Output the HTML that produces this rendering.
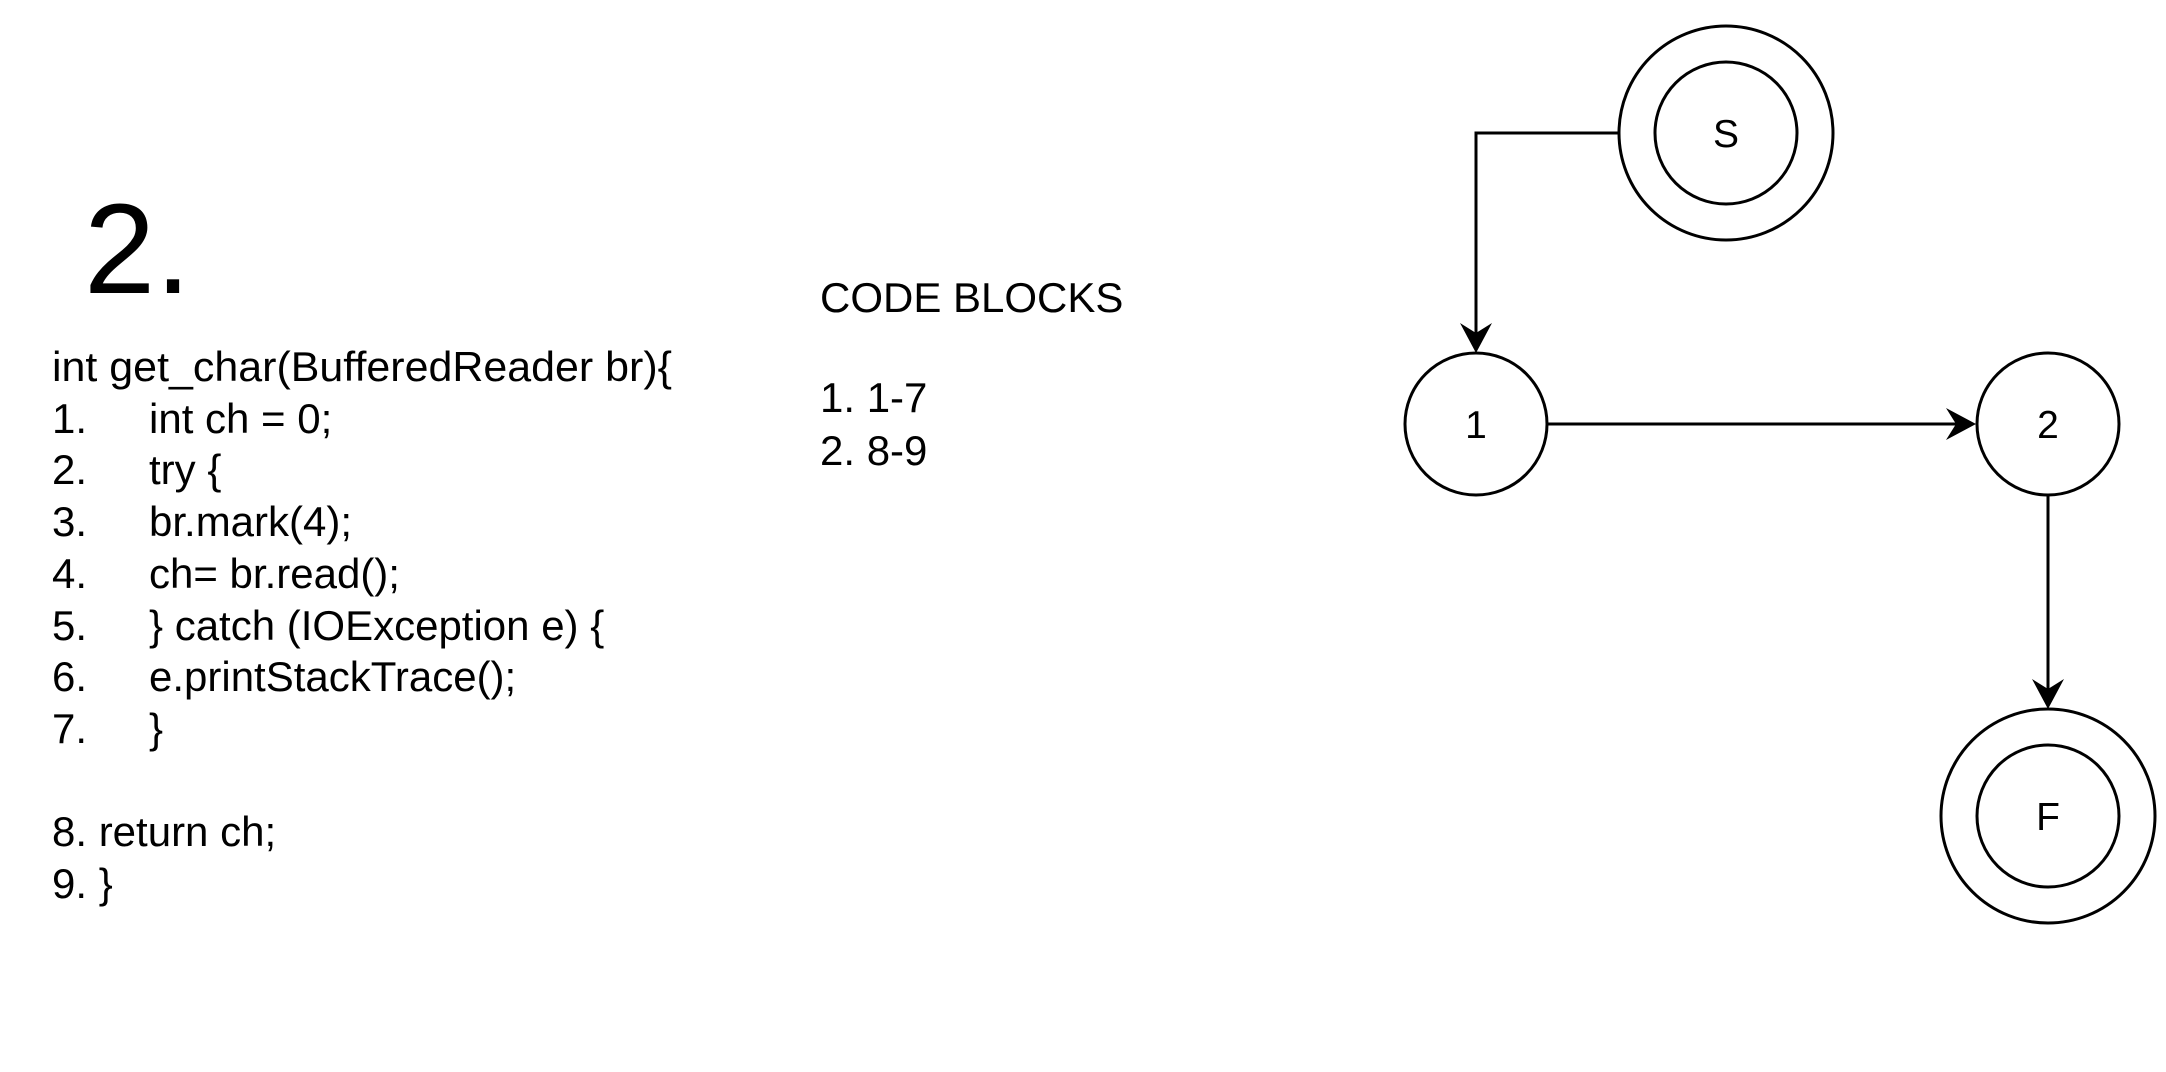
<!DOCTYPE html>
<html><head><meta charset="utf-8"><style>
html,body{margin:0;padding:0;background:#fff;width:2166px;height:1072px;overflow:hidden}
svg{display:block}
text{font-family:"Liberation Sans",Helvetica,Arial,sans-serif;fill:#000}
</style></head><body>
<svg width="2166" height="1072" viewBox="0 0 2166 1072" xmlns="http://www.w3.org/2000/svg">
<text x="84" y="293" font-size="128">2.</text>
<g font-size="42">
<text x="52" y="381" textLength="620" lengthAdjust="spacingAndGlyphs">int get_char(BufferedReader br){</text>
<text x="52" y="433">1.</text><text x="149" y="433">int ch = 0;</text>
<text x="52" y="484">2.</text><text x="149" y="484">try {</text>
<text x="52" y="536">3.</text><text x="149" y="536">br.mark(4);</text>
<text x="52" y="588">4.</text><text x="149" y="588">ch= br.read();</text>
<text x="52" y="640">5.</text><text x="149" y="640">} catch (IOException e) {</text>
<text x="52" y="691">6.</text><text x="149" y="691">e.printStackTrace();</text>
<text x="52" y="743">7.</text><text x="149" y="743">}</text>
<text x="52" y="846">8. return ch;</text>
<text x="52" y="898">9. }</text>
<text x="820" y="312">CODE BLOCKS</text>
<text x="820" y="412">1. 1-7</text>
<text x="820" y="465">2. 8-9</text>
</g>
<g fill="none" stroke="#000" stroke-width="3">
<circle cx="1726" cy="133" r="107"/><circle cx="1726" cy="133" r="71"/>
<circle cx="1476" cy="424" r="71"/>
<circle cx="2048" cy="424" r="71"/>
<circle cx="2048" cy="816" r="107"/><circle cx="2048" cy="816" r="71"/>
<polyline points="1619,133 1476,133 1476,335"/>
<line x1="1548" y1="424" x2="1958" y2="424"/>
<line x1="2048" y1="496" x2="2048" y2="690"/>
</g>
<g fill="#000">
<polygon points="1476,353 1460,323 1476,333 1492,323"/>
<polygon points="1976,424 1946,408 1956,424 1946,440"/>
<polygon points="2048,709 2032,679 2048,689 2064,679"/>
</g>
<g font-size="39" text-anchor="middle">
<text x="1726" y="147">S</text>
<text x="1476" y="438">1</text>
<text x="2048" y="438">2</text>
<text x="2048" y="830">F</text>
</g>
</svg>
</body></html>
